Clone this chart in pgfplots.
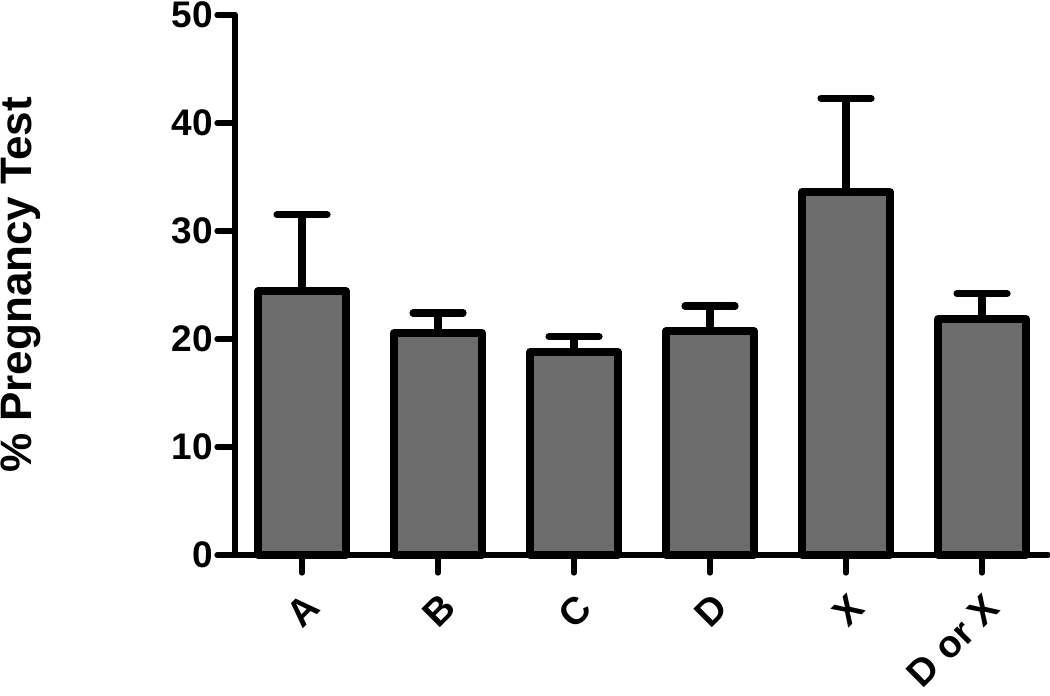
\documentclass[border=0pt]{standalone}
\usepackage{fontspec}
\setmainfont{Liberation Sans}
\usepackage{pgfplots}
\pgfplotsset{compat=1.18}
\definecolor{bargray}{RGB}{108,108,108}
\begin{document}
\begin{tikzpicture}
\begin{axis}[
  at={(0,0)}, anchor=south west,
  x=68pt, y=5.4pt,
  xmin=-0.493, xmax=5.485,
  ymin=0, ymax=50,
  axis lines=left,
  axis line style={-, line width=3pt, line cap=round},
  clip=false,
  tick align=outside,
  major tick length=9pt,
  every tick/.style={black, line width=2.6pt, line cap=round},
  xtick={0,1,2,3,4,5},
  xticklabels={A,B,C,D,X,D or X},
  ytick={0,10,20,30,40,50},
  minor tick num=0,
  /pgf/number format/assume math mode=true,
  y tick label style={font=\bfseries\fontsize{18.5}{22}\selectfont, inner sep=2pt},
  x tick label style={font=\bfseries\fontsize{19}{23}\selectfont, rotate=45, anchor=north east, inner sep=0pt, yshift=-7pt, xshift=-6pt},
  ylabel={\% Pregnancy Test},
  every axis y label/.style={at={(axis description cs:-0.25,0.5)}, anchor=base, rotate=90,
    font=\bfseries\fontsize{22}{26}\selectfont},
]
\addplot[ybar, bar width=44pt, bar shift=0pt, fill=bargray, draw=black, line width=4pt, line join=round,
  error bars/.cd, y dir=plus, y explicit,
  error bar style={line width=3.6pt, black},
  error mark options={rotate=90, line width=3.6pt, mark size=12.5pt, line cap=round, black}]
  coordinates {
  (0,24.4) +- (0,7.1)
  (1,20.55) +- (0,1.85)
  (2,18.8) +- (0,1.4)
  (3,20.7) +- (0,2.35)
  (4,33.6) +- (0,8.7)
  (5,21.85) +- (0,2.35)
  };
\end{axis}
\pgfresetboundingbox
\path[use as bounding box] (-117.5pt,-70.5pt) rectangle (407.5pt,277.5pt);
\end{tikzpicture}
\end{document}
